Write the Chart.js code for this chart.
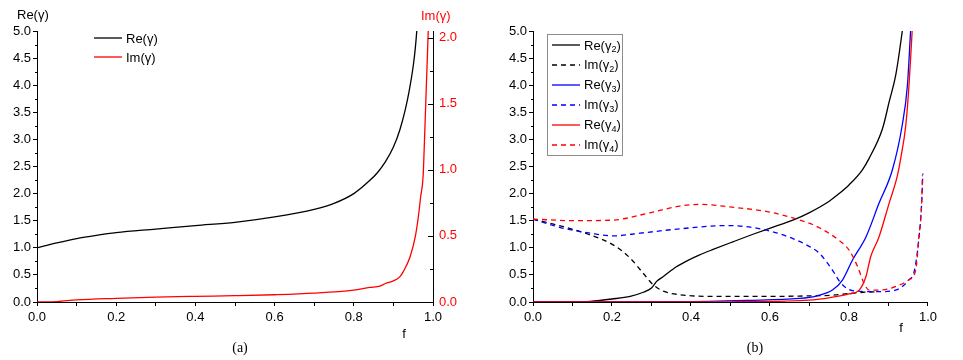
<!DOCTYPE html>
<html>
<head>
<meta charset="utf-8">
<script src="https://cdn.jsdelivr.net/npm/chart.js@4.4.0/dist/chart.umd.min.js"></script>
<style>
  body { margin: 0; background: #fff; }
  #wrap { position: relative; width: 963px; height: 360px; overflow: hidden;
          font-family: "Liberation Sans", Arial, sans-serif; font-size: 13px; color: #000; }
  canvas { position: absolute; top: 0; }
  .lbl { position: absolute; white-space: nowrap; line-height: 1; }
  .c { transform: translate(-50%, -50%); }
  .cap { font-family: "Liberation Serif", "Times New Roman", serif; font-size: 14px; }
  .row { position: absolute; height: 16px; display: flex; align-items: center; white-space: nowrap; transform: translateY(-50%); }
  .row svg { margin-right: 4px; }
  .sub { font-size: 9px; position: relative; top: 4px; }
  #legB { position: absolute; left: 547px; top: 34px; width: 74px; height: 120px; border: 1px solid #8c8c8c; }
</style>
</head>
<body>
<div id="wrap">
  <canvas id="chartA" width="463" height="327" style="left:0"></canvas>
  <canvas id="chartB" width="445" height="327" style="left:496px"></canvas>

  <div class="lbl" style="left:17px; top:8px;">Re(γ)</div>
  <div class="lbl" style="left:421px; top:9px; color:#f00;">Im(γ)</div>
  <div class="lbl c" style="left:404px; top:333px;">f</div>
  <div class="lbl c" style="left:901px; top:327px;">f</div>
  <div class="lbl c cap" style="left:240px; top:348px;">(a)</div>
  <div class="lbl c cap" style="left:755px; top:348px;">(b)</div>

  <div id="legA"></div>
  <div id="legB"></div>
  <div id="legBRows"></div>
</div>
<script>
// x axis ticks (shared)
const fTicks = [0, 0.1, 0.2, 0.3, 0.4, 0.5, 0.6, 0.7, 0.8, 0.9, 1.0];
const fLabels = ['0.0', '', '0.2', '', '0.4', '', '0.6', '', '0.8', '', '1.0'];
// left axis ticks
const reTicks = [0, 0.5, 1, 1.5, 2, 2.5, 3, 3.5, 4, 4.5, 5];
const reMinor = [0.25, 0.75, 1.25, 1.75, 2.25, 2.75, 3.25, 3.75, 4.25, 4.75];
// right axis ticks (panel a)
const imTicks = [0, 0.5, 1, 1.5, 2];
const imMinor = [0.25, 0.75, 1.25, 1.75];

// panel (a)
const reA_f = [0, 0.05, 0.1, 0.15, 0.2, 0.3, 0.4, 0.5, 0.6, 0.7, 0.75, 0.8, 0.84, 0.86, 0.88, 0.9, 0.916, 0.93, 0.94, 0.95, 0.955, 0.959, 0.962];
const reA   = [1.0, 1.09, 1.17, 1.23, 1.28, 1.345, 1.41, 1.47, 1.57, 1.71, 1.82, 2.0, 2.24, 2.39, 2.59, 2.86, 3.17, 3.55, 3.9, 4.35, 4.66, 5.0, 5.35];
const imA_f = [0, 0.05, 0.1, 0.2, 0.3, 0.4, 0.5, 0.6, 0.7, 0.8, 0.84, 0.866, 0.88, 0.9, 0.916, 0.925, 0.942, 0.955, 0.963, 0.969, 0.975, 0.978, 0.982, 0.985, 0.988, 0.99];
const imA   = [0, 0.003, 0.016, 0.028, 0.037, 0.043, 0.048, 0.055, 0.067, 0.09, 0.11, 0.12, 0.14, 0.16, 0.19, 0.23, 0.34, 0.49, 0.645, 0.8, 0.95, 1.18, 1.53, 1.79, 2.05, 2.3];

// panel (b)
const re2_f = [0, 0.12, 0.145, 0.2, 0.246, 0.279, 0.3, 0.313, 0.33, 0.363, 0.39, 0.422, 0.456, 0.506, 0.557, 0.599, 0.658, 0.7, 0.75, 0.775, 0.8, 0.834, 0.851, 0.885, 0.902, 0.9185, 0.935, 0.94];
const re2   = [0, 0.006, 0.012, 0.055, 0.104, 0.18, 0.26, 0.38, 0.47, 0.65, 0.76, 0.87, 0.97, 1.11, 1.25, 1.36, 1.51, 1.65, 1.86, 2.0, 2.16, 2.44, 2.65, 3.2, 3.7, 4.19, 5.0, 5.3];
const im2_f = [0, 0.077, 0.14, 0.204, 0.246, 0.279, 0.304, 0.33, 0.372, 0.456, 0.624, 0.674, 0.758, 0.818, 0.868];
const im2   = [1.53, 1.39, 1.25, 1.05, 0.81, 0.53, 0.32, 0.2, 0.135, 0.104, 0.104, 0.11, 0.125, 0.17, 0.19];
const re3_f = [0, 0.37, 0.54, 0.674, 0.717, 0.758, 0.784, 0.809, 0.843, 0.876, 0.91, 0.935, 0.948, 0.956, 0.96];
const re3   = [0, 0.006, 0.03, 0.065, 0.11, 0.22, 0.41, 0.775, 1.2, 1.82, 2.44, 3.27, 4.0, 5.0, 5.5];
const im3_f = [0, 0.077, 0.145, 0.204, 0.271, 0.372, 0.49, 0.54, 0.6, 0.658, 0.708, 0.725, 0.758, 0.78, 0.809, 0.868, 0.918, 0.952, 0.965, 0.976, 0.984, 0.987];
const im3   = [1.53, 1.36, 1.27, 1.22, 1.27, 1.35, 1.41, 1.39, 1.31, 1.17, 0.99, 0.9, 0.59, 0.345, 0.21, 0.19, 0.22, 0.41, 0.56, 1.1, 1.82, 2.37];
const re4_f = [0, 0.5, 0.674, 0.742, 0.8, 0.826, 0.843, 0.855, 0.876, 0.9016, 0.9226, 0.931, 0.944, 0.952, 0.96, 0.964];
const re4   = [0, 0.004, 0.024, 0.068, 0.148, 0.22, 0.47, 0.836, 1.2, 1.82, 2.33, 2.65, 3.27, 4.0, 5.0, 5.5];
const im4_f = [0, 0.103, 0.2, 0.304, 0.372, 0.426, 0.498, 0.599, 0.649, 0.708, 0.725, 0.767, 0.8, 0.822, 0.838, 0.851, 0.876, 0.927, 0.952, 0.969, 0.977, 0.984, 0.986];
const im4   = [1.53, 1.50, 1.51, 1.66, 1.77, 1.80, 1.755, 1.66, 1.57, 1.43, 1.37, 1.18, 0.96, 0.65, 0.345, 0.22, 0.22, 0.31, 0.41, 0.59, 1.2, 1.82, 2.34];

const BLACK = '#000000';
const RED = '#ff0000';
const BLUE = '#0000ff';

Chart.defaults.font.family = '"Liberation Sans", Arial, sans-serif';
Chart.defaults.font.size = 13;
Chart.defaults.color = '#000';

function pts(xs, ys) {
  return xs.map((x, i) => ({ x: x, y: ys[i] }));
}

function series(label, xs, ys, color, dashed, axis) {
  return {
    label: label,
    data: pts(xs, ys),
    borderColor: color,
    borderWidth: 1.3,
    borderDash: dashed ? [5, 4] : [],
    pointRadius: 0,
    fill: false,
    cubicInterpolationMode: 'monotone',
    yAxisID: axis || 'y'
  };
}

// short tick marks the library does not draw (minor ticks, inward right axis)
function tickMarks(list) {
  return {
    id: 'tickMarks',
    afterDraw(chart) {
      const ctx = chart.ctx;
      ctx.save();
      ctx.strokeStyle = '#000';
      ctx.lineWidth = 1;
      list.forEach(t => {
        const s = chart.scales[t.axis];
        const x0 = t.axis === 'y2' ? s.left : s.right;
        t.values.forEach(v => {
          const p = Math.round(s.getPixelForValue(v)) + 0.5;
          ctx.beginPath();
          ctx.moveTo(x0, p);
          ctx.lineTo(x0 + t.len, p);
          ctx.stroke();
        });
      });
      ctx.restore();
    }
  };
}

function xScale() {
  return {
    type: 'linear', min: 0, max: 1,
    afterBuildTicks: s => { s.ticks = fTicks.map(v => ({ value: v })); },
    afterFit: s => { s.height = 25; },
    ticks: { autoSkip: false, maxRotation: 0, padding: 4, callback: (v, i) => fLabels[i] },
    grid: { display: true, drawOnChartArea: false, tickLength: 4, color: '#000' },
    border: { display: true, color: '#000', width: 1 }
  };
}

function yScale() {
  return {
    type: 'linear', position: 'left', min: 0, max: 5,
    afterBuildTicks: s => { s.ticks = reTicks.map(v => ({ value: v })); },
    afterFit: s => { s.width = 37; },
    ticks: { padding: 2, callback: v => v.toFixed(1) },
    grid: { display: true, drawOnChartArea: false, tickLength: 4, color: '#000' },
    border: { display: true, color: '#000', width: 1 }
  };
}

const baseOpts = {
  responsive: false,
  animation: false,
  events: [],
  plugins: { legend: { display: false }, tooltip: { enabled: false } }
};

new Chart(document.getElementById('chartA'), {
  type: 'line',
  data: {
    datasets: [
      series('Re(γ)', reA_f, reA, BLACK, false, 'y'),
      series('Im(γ)', imA_f, imA, RED, false, 'y2')
    ]
  },
  options: Object.assign({}, baseOpts, {
    layout: { padding: { top: 31, left: 0, right: 0, bottom: 0 } },
    scales: {
      x: xScale(),
      y: yScale(),
      y2: {
        type: 'linear', position: 'right', min: 0, max: 2.05,
        afterBuildTicks: s => { s.ticks = imTicks.map(v => ({ value: v })); },
        afterFit: s => { s.width = 30; },
        ticks: { color: RED, padding: 6, callback: v => v.toFixed(1) },
        grid: { display: false, drawTicks: false },
        border: { display: true, color: '#000', width: 1 }
      }
    }
  }),
  plugins: [tickMarks([
    { axis: 'y', values: reMinor, len: -2 },
    { axis: 'y2', values: imTicks, len: -5 },
    { axis: 'y2', values: imMinor, len: -3 }
  ])]
});

new Chart(document.getElementById('chartB'), {
  type: 'line',
  data: {
    datasets: [
      series('Re(γ4)', re4_f, re4, RED, false),
      series('Im(γ4)', im4_f, im4, RED, true),
      series('Re(γ3)', re3_f, re3, BLUE, false),
      series('Im(γ3)', im3_f, im3, BLUE, true),
      series('Re(γ2)', re2_f, re2, BLACK, false),
      series('Im(γ2)', im2_f, im2, BLACK, true)
    ]
  },
  options: Object.assign({}, baseOpts, {
    layout: { padding: { top: 31, left: 0, right: 12, bottom: 0 } },
    scales: { x: xScale(), y: yScale() }
  }),
  plugins: [tickMarks([{ axis: 'y', values: reMinor, len: -2 }])]
});

// legends
function sample(color, dashed) {
  return '<svg width="28" height="6"><line x1="0" y1="3" x2="28" y2="3" stroke="' + color +
    '" stroke-width="1.3"' + (dashed ? ' stroke-dasharray="5,4"' : '') + '/></svg>';
}

const legA = [
  { html: 'Re(γ)', color: BLACK, dashed: false },
  { html: 'Im(γ)', color: RED, dashed: false }
];
document.getElementById('legA').innerHTML = legA.map((e, i) =>
  '<div class="row" style="left:94px; top:' + (38 + i * 19) + 'px;">' + sample(e.color, e.dashed) + e.html + '</div>'
).join('');

const legB = [
  { html: 'Re(γ<span class="sub">2</span>)', color: BLACK, dashed: false },
  { html: 'Im(γ<span class="sub">2</span>)', color: BLACK, dashed: true },
  { html: 'Re(γ<span class="sub">3</span>)', color: BLUE, dashed: false },
  { html: 'Im(γ<span class="sub">3</span>)', color: BLUE, dashed: true },
  { html: 'Re(γ<span class="sub">4</span>)', color: RED, dashed: false },
  { html: 'Im(γ<span class="sub">4</span>)', color: RED, dashed: true }
];
document.getElementById('legBRows').innerHTML = legB.map((e, i) =>
  '<div class="row" style="left:552px; top:' + (45 + i * 19.9) + 'px;">' + sample(e.color, e.dashed) + e.html + '</div>'
).join('');
</script>
</body>
</html>
